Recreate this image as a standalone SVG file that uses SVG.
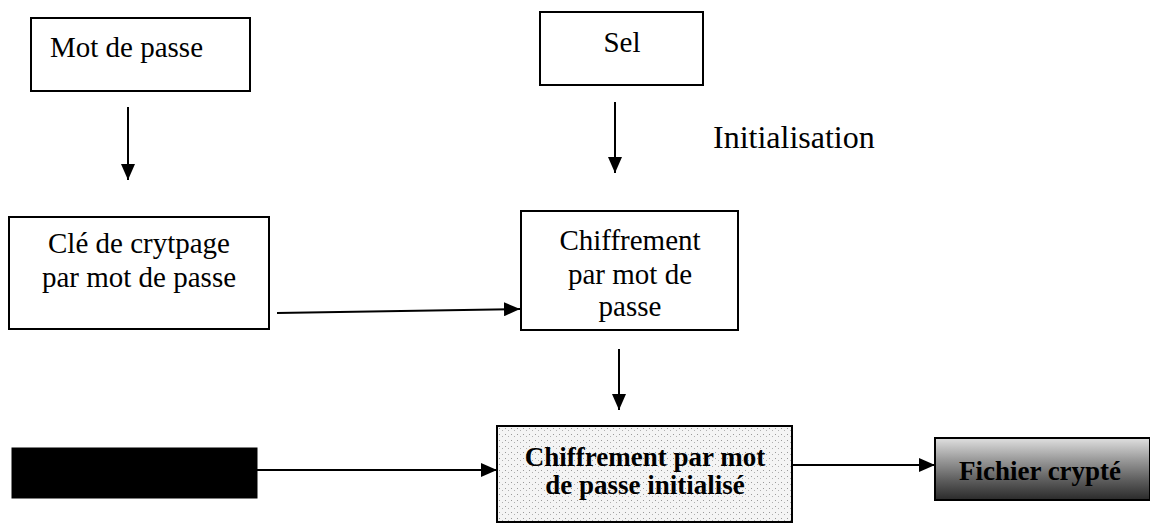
<svg xmlns="http://www.w3.org/2000/svg" width="1150" height="526" viewBox="0 0 1150 526">
  <style>
    .box { fill: #ffffff; stroke: #000000; stroke-width: 2; }
    .lbl { font-family: "Liberation Serif", "Times New Roman", serif; font-size: 29px; fill: #000000; }
    .bold { font-weight: bold; font-size: 27px; }
    .conn { stroke: #000000; stroke-width: 2; fill: none; marker-end: url(#arrow); }
  </style>
  <defs>
    <marker id="arrow" markerUnits="userSpaceOnUse" markerWidth="16" markerHeight="14" refX="16" refY="7" orient="auto">
      <path d="M0,0 L16,7 L0,14 z" fill="#000000"/>
    </marker>
    <pattern id="stipple" width="6" height="6" patternUnits="userSpaceOnUse">
      <rect width="6" height="6" fill="#f4f4f4"/>
      <rect x="1" y="2" width="1" height="1" fill="#9a9a9a"/>
      <rect x="4" y="4" width="1" height="1" fill="#b0b0b0"/>
    </pattern>
    <linearGradient id="darkfill" x1="0" y1="0" x2="0" y2="1">
      <stop offset="0" stop-color="#e0e0e0"/>
      <stop offset="0.35" stop-color="#9a9a9a"/>
      <stop offset="0.7" stop-color="#5a5a5a"/>
      <stop offset="1" stop-color="#2a2a2a"/>
    </linearGradient>
  </defs>

  <g id="connectors">
    <line class="conn" x1="128" y1="107" x2="128" y2="180"/>
    <line class="conn" x1="615" y1="102" x2="615" y2="173"/>
    <line class="conn" x1="277" y1="313" x2="520" y2="309"/>
    <line class="conn" x1="619" y1="349" x2="619" y2="410"/>
    <line class="conn" x1="257" y1="470" x2="497" y2="470"/>
    <line class="conn" x1="792" y1="465" x2="935" y2="465"/>
  </g>

  <g id="mot-de-passe">
    <rect class="box" x="31" y="18" width="219" height="73"/>
    <text class="lbl" x="50" y="57">Mot de passe</text>
  </g>

  <g id="sel">
    <rect class="box" x="540" y="12" width="163" height="73"/>
    <text class="lbl" x="622" y="52" text-anchor="middle">Sel</text>
  </g>

  <g id="initialisation">
    <text class="lbl" x="713" y="148" style="font-size:32px">Initialisation</text>
  </g>

  <g id="cle-cryptage">
    <rect class="box" x="9" y="217" width="260" height="112"/>
    <text class="lbl" x="139" y="253" text-anchor="middle">Clé de crytpage</text>
    <text class="lbl" x="139" y="287" text-anchor="middle">par mot de passe</text>
  </g>

  <g id="chiffrement">
    <rect class="box" x="521" y="211" width="217" height="119"/>
    <text class="lbl" x="630" y="250" text-anchor="middle">Chiffrement</text>
    <text class="lbl" x="630" y="284" text-anchor="middle">par mot de</text>
    <text class="lbl" x="630" y="316" text-anchor="middle">passe</text>
  </g>

  <g id="fichier-source">
    <rect x="12" y="448" width="245" height="50" fill="#000000" stroke="#000000" stroke-width="1"/>
  </g>

  <g id="chiffrement-initialise">
    <rect x="497" y="426" width="295" height="96" fill="url(#stipple)" stroke="#000000" stroke-width="2"/>
    <text class="lbl bold" x="645" y="466" text-anchor="middle">Chiffrement par mot</text>
    <text class="lbl bold" x="645" y="494" text-anchor="middle">de passe initialisé</text>
  </g>

  <g id="fichier-crypte">
    <rect x="935" y="438" width="215" height="62" fill="url(#darkfill)" stroke="#000000" stroke-width="2"/>
    <text class="lbl bold" x="1040" y="480" text-anchor="middle" fill="#111111">Fichier crypté</text>
  </g>
</svg>
